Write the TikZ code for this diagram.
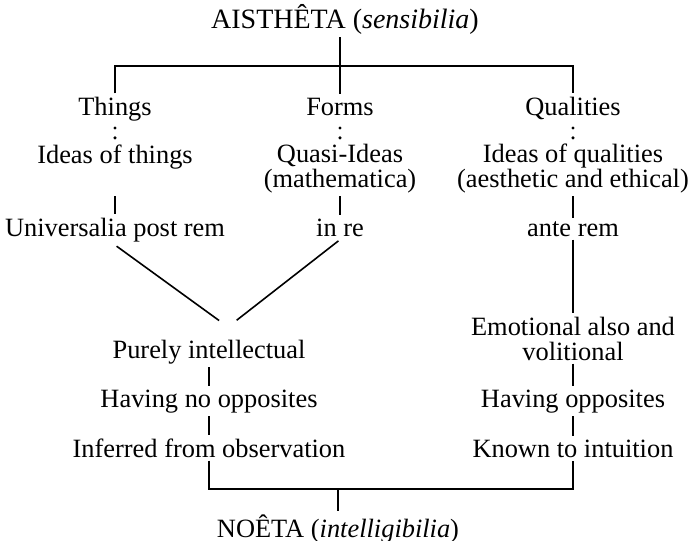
\documentclass[tikz,border=0pt]{standalone}
\usepackage{fontspec}
\setmainfont{Liberation Serif}
\usepackage{tikz}
\usetikzlibrary{positioning}
\tikzset{
  term/.style={anchor=base, inner sep=1.5pt, align=center,
               font=\fontsize{13.2}{12.4}\selectfont},
  head/.style={term, font=\fontsize{14}{14}\selectfont},
  link/.style={line width=0.8pt, black},
  pairdots/.style={line width=1.7pt, line cap=round, dash pattern=on 0pt off 4.9pt},
  fork/.style={link, shorten >=5.5pt, shorten <=1pt},
}
\begin{document}
\begin{tikzpicture}[x=0.5pt, y=-0.5pt]
\useasboundingbox (0,0) rectangle (693,541);
% sensibilia
\node[head] (aisth) at (345,28) {AISTHÊTA (\textit{sensibilia})};
\node[term] (things) at (115,115) {Things};
\node[term] (forms) at (340,115) {Forms};
\node[term] (quals) at (573,115) {Qualities};
\node[term] (ideasT) at (115,163) {Ideas of things};
\node[term] (quasi) at (340,187) {Quasi-Ideas\\(mathematica)};
\node[term] (ideasQ) at (573,187) {Ideas of qualities\\(aesthetic and ethical)};
\node[term] (post) at (115,236) {Universalia post rem};
\node[term] (inre) at (340,236) {in re};
\node[term] (ante) at (573,236) {ante rem};
% intelligibilia
\node[term] (purely) at (209,358) {Purely intellectual};
\node[term] (emot) at (573,360) {Emotional also and\\volitional};
\node[term] (hno) at (209,407) {Having no opposites};
\node[term] (hop) at (573,407) {Having opposites};
\node[term] (infer) at (209,457) {Inferred from observation};
\node[term] (known) at (573,457) {Known to intuition};
\node[term] (noeta) at (338,537) {NOÊTA (\textit{intelligibilia})};
% top fork
\coordinate (tj) at (340,66);
\draw[link] (aisth.south -| tj) -- (tj);
\draw[link] (things.north) |- (tj) -| (quals.north);
\draw[link] (tj) -- (forms.north);
% colons
\foreach \n in {things,forms,quals}
  \draw[pairdots] (\n.south |- 0,128) -- (\n.south |- 0,138);
% columns
\draw[link] (post.north |- quasi.south) -- (post.north);
\draw[link] (quasi.south) -- (inre.north);
\draw[link] (ideasQ.south) -- (ante.north);
\coordinate (meet) at (228,327);
\draw[fork] (post.south) -- (meet);
\draw[fork] (inre.south) -- (meet);
\draw[link] (ante.south) -- (emot.north);
\draw[link] (purely.south) -- (hno.north);
\draw[link] (hno.south) -- (infer.north);
\draw[link] (emot.south) -- (hop.north);
\draw[link] (hop.south) -- (known.north);
% bottom fork
\coordinate (bj) at (338,489);
\draw[link] (infer.south) |- (bj) -| (known.south);
\draw[link] (bj) -- (noeta.north);
\end{tikzpicture}
\end{document}
